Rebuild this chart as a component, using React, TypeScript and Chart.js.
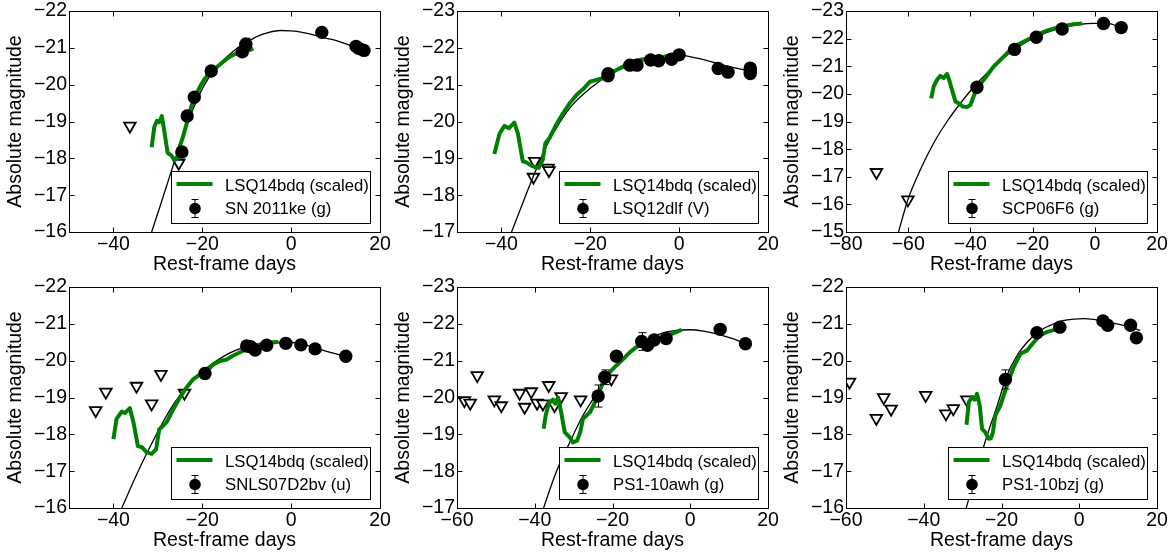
import React, { useEffect, useRef } from 'react';
import { Chart, registerables } from 'chart.js';

Chart.register(...registerables);

const FONT_FAMILY = '"Liberation Sans", Arial, Helvetica, sans-serif';

// ---------- shared text ----------
const xTitle = 'Rest-frame days';
const yTitle = 'Absolute magnitude';
const templateLabel = 'LSQ14bdq (scaled)';

// ---------- panel 1 : SN 2011ke (g) ----------
const p1Label = 'SN 2011ke (g)';
const p1XRange = [-50, 20];
const p1YRange = [-22, -16];
const p1XTicks = [-40, -20, 0, 20];
const p1YTicks = [-22, -21, -20, -19, -18, -17, -16];
const p1DetX = [-24.6, -23.4, -21.8, -18.0, -11.0, -10.2, 6.9, 14.6, 15.3, 16.4];
const p1DetY = [-18.17, -19.15, -19.66, -20.37, -20.89, -21.1, -21.42, -21.04, -20.98, -20.93];
const p1DetErr = [0.05, 0.05, 0.05, 0.05, 0.05, 0.16, 0.05, 0.05, 0.05, 0.05];
const p1LimX = [-36.3, -25.3];
const p1LimY = [-18.88, -17.87];
const p1FitX = [-32.0, -31.4, -29.5, -27.5, -25.5, -23.5, -21.5, -19.5, -17, -14.5, -12, -10, -7.5, -5, -2.5, 0, 2.5, 5, 7.5, 10, 12.5, 15, 16.5];
const p1FitY = [-15.78, -16, -16.7, -17.45, -18.2, -18.9, -19.5, -20.0, -20.45, -20.75, -21.0, -21.15, -21.32, -21.42, -21.47, -21.46, -21.42, -21.35, -21.27, -21.2, -21.1, -21.0, -20.93];
const p1TplX = [-31.4, -30.8, -30.2, -29.7, -29.1, -28.5, -27.8, -27.0, -26.2, -25.6, -25.0, -24.3, -23.5, -22.5, -21.5, -20.5, -19.5, -18.5, -17.5, -16.5, -15.5, -14.5, -13.5, -12.5, -11.5, -10.5, -9.5, -8.5];
const p1TplY = [-18.3, -18.85, -19.02, -18.98, -19.15, -18.7, -18.15, -18.08, -17.95, -18.0, -18.35, -18.6, -18.95, -19.4, -19.7, -19.95, -20.15, -20.3, -20.38, -20.5, -20.6, -20.7, -20.78, -20.84, -20.87, -20.9, -20.94, -20.98];

// ---------- panel 2 : LSQ12dlf (V) ----------
const p2Label = 'LSQ12dlf (V)';
const p2XRange = [-50, 20];
const p2YRange = [-23, -17];
const p2XTicks = [-40, -20, 0, 20];
const p2YTicks = [-23, -22, -21, -20, -19, -18, -17];
const p2DetX = [-16.0, -16.0, -11.1, -9.5, -6.4, -4.6, -1.7, 0.0, 8.8, 11.0, 16.0, 16.0, 16.0];
const p2DetY = [-21.3, -21.24, -21.53, -21.53, -21.67, -21.65, -21.69, -21.81, -21.44, -21.34, -21.45, -21.38, -21.3];
const p2DetErr = [0.05, 0.05, 0.05, 0.05, 0.05, 0.05, 0.05, 0.05, 0.05, 0.05, 0.05, 0.05, 0.05];
const p2LimX = [-32.5, -32.8, -29.5, -29.3];
const p2LimY = [-18.92, -18.49, -18.74, -18.67];
const p2FitX = [-38.2, -35, -32.5, -30, -27, -24, -20, -16, -12, -8, -4, 0, 4, 8, 12, 16];
const p2FitY = [-16.85, -17.85, -18.6, -19.3, -19.95, -20.45, -20.9, -21.25, -21.5, -21.65, -21.75, -21.8, -21.72, -21.6, -21.47, -21.37];
const p2TplX = [-41.6, -40.4, -39.3, -38.3, -37.1, -36.3, -35.2, -34.4, -32.9, -31.6, -30.7, -30.1, -29.2, -27.7, -26.1, -24.6, -23.1, -21.6, -20.1, -18.6, -17.1, -15.6, -14.1, -12.6, -11.1, -9.6, -8.1, -6.6, -5.1, -3.6, -2.0];
const p2TplY = [-19.12, -19.68, -19.88, -19.82, -19.97, -19.68, -18.92, -18.89, -18.78, -18.74, -18.96, -19.41, -19.55, -19.91, -20.23, -20.5, -20.72, -20.88, -21.08, -21.13, -21.18, -21.31, -21.4, -21.49, -21.6, -21.65, -21.69, -21.72, -21.74, -21.75, -21.8];

// ---------- panel 3 : SCP06F6 (g) ----------
const p3Label = 'SCP06F6 (g)';
const p3XRange = [-80, 20];
const p3YRange = [-23, -15];
const p3XTicks = [-80, -60, -40, -20, 0, 20];
const p3YTicks = [-23, -22, -21, -20, -19, -18, -17, -16, -15];
const p3DetX = [-37.9, -25.8, -18.8, -10.5, 2.8, 8.5];
const p3DetY = [-20.24, -21.61, -22.05, -22.35, -22.55, -22.4];
const p3DetErr = [0.05, 0.05, 0.05, 0.05, 0.05, 0.05];
const p3LimX = [-70.2, -60.1];
const p3LimY = [-17.16, -16.17];
const p3FitX = [-63.5, -60.1, -56.1, -51.8, -47.5, -43.2, -39, -34.7, -30.4, -26.1, -21.8, -17.5, -13.2, -8.9, -4.6, -0.4, 3.9, 8.5];
const p3FitY = [-14.85, -16.17, -17.25, -18.22, -19.0, -19.66, -20.24, -20.75, -21.19, -21.59, -21.89, -22.13, -22.31, -22.43, -22.52, -22.55, -22.55, -22.4];
const p3TplX = [-52.6, -51.8, -50.7, -49.7, -48.6, -47.5, -47.0, -45.9, -44.8, -43.8, -42.4, -41.1, -40.0, -39.0, -37.9, -35.7, -32.5, -29.3, -26.1, -23.9, -21.8, -19.6, -17.5, -15.4, -12.2, -8.9, -6.8, -4.1];
const p3TplY = [-19.84, -20.27, -20.51, -20.65, -20.57, -20.72, -20.57, -20.14, -19.72, -19.66, -19.54, -19.52, -19.6, -19.9, -20.2, -20.51, -20.99, -21.35, -21.71, -21.83, -21.95, -22.07, -22.19, -22.29, -22.4, -22.48, -22.52, -22.55];

// ---------- panel 4 : SNLS07D2bv (u) ----------
const p4Label = 'SNLS07D2bv (u)';
const p4XRange = [-50, 20];
const p4YRange = [-22, -16];
const p4XTicks = [-40, -20, 0, 20];
const p4YTicks = [-22, -21, -20, -19, -18, -17, -16];
const p4DetX = [-19.4, -10.0, -9.1, -8.1, -5.5, -1.2, 2.2, 5.4, 12.3];
const p4DetY = [-19.65, -20.4, -20.38, -20.29, -20.42, -20.47, -20.43, -20.32, -20.12];
const p4DetErr = [0.05, 0.05, 0.05, 0.05, 0.05, 0.05, 0.05, 0.05, 0.05];
const p4LimX = [-44.0, -41.7, -34.8, -31.4, -29.3, -24.0];
const p4LimY = [-18.65, -19.15, -19.31, -18.83, -19.63, -19.12];
const p4FitX = [-38.3, -35, -32, -29, -26, -23, -20, -17, -14, -11, -8, -5, -1, 2, 5.4, 9, 12.3];
const p4FitY = [-15.95, -16.85, -17.6, -18.3, -18.9, -19.35, -19.7, -19.98, -20.2, -20.35, -20.44, -20.48, -20.5, -20.46, -20.35, -20.22, -20.12];
const p4TplX = [-40.0, -39.3, -38.1, -37.4, -36.3, -35.5, -34.5, -33.6, -32.5, -31.4, -30.4, -29.7, -28.0, -26.5, -25.0, -23.5, -22.0, -20.5, -19.0, -17.5, -16.0, -14.5, -13.0, -11.5, -10.0, -8.5, -7.0, -5.5, -4.0, -2.9];
const p4TplY = [-17.87, -18.42, -18.62, -18.58, -18.71, -18.33, -17.68, -17.65, -17.51, -17.47, -17.59, -18.13, -18.33, -18.69, -19.01, -19.28, -19.5, -19.63, -19.72, -19.9, -19.99, -20.03, -20.14, -20.23, -20.32, -20.4, -20.44, -20.49, -20.5, -20.51];

// ---------- panel 5 : PS1-10awh (g) ----------
const p5Label = 'PS1-10awh (g)';
const p5XRange = [-60, 20];
const p5YRange = [-23, -17];
const p5XTicks = [-60, -40, -20, 0, 20];
const p5YTicks = [-23, -22, -21, -20, -19, -18, -17];
const p5DetX = [-23.7, -22.0, -19.0, -12.5, -11.0, -9.3, -6.2, 7.7, 14.2];
const p5DetY = [-20.04, -20.55, -21.12, -21.52, -21.42, -21.56, -21.6, -21.85, -21.46];
const p5DetErr = [0.3, 0.2, 0.05, 0.24, 0.05, 0.05, 0.05, 0.05, 0.05];
const p5LimX = [-58.1, -56.6, -54.8, -50.4, -48.6, -43.9, -42.6, -40.9, -39.4, -37.9, -36.4, -34.9, -33.2, -28.2, -20.3];
const p5LimY = [-19.92, -19.85, -20.6, -19.94, -19.78, -20.12, -19.74, -20.16, -19.85, -19.83, -20.33, -19.78, -20.03, -19.94, -20.51];
const p5FitX = [-38, -34.5, -31.0, -27.6, -24.1, -20.7, -17.2, -13.8, -10.4, -6.9, -3.5, 0, 3.4, 7.7, 11.1, 14.2];
const p5FitY = [-16.92, -17.97, -18.78, -19.51, -20.1, -20.64, -21.05, -21.37, -21.59, -21.76, -21.82, -21.84, -21.8, -21.7, -21.59, -21.46];
const p5TplX = [-37.7, -37.2, -36.3, -35.3, -34.7, -34.0, -33.2, -32.3, -31.0, -30.2, -29.1, -28.3, -27.6, -25.8, -24.1, -22.4, -20.7, -19.0, -17.2, -15.5, -13.8, -12.1, -10.4, -8.6, -6.9, -5.2, -3.5, -2.2];
const p5TplY = [-19.15, -19.51, -19.87, -19.94, -19.83, -20.0, -19.6, -19.06, -18.92, -18.78, -18.83, -19.06, -19.42, -19.6, -19.96, -20.42, -20.69, -20.87, -21.05, -21.23, -21.37, -21.46, -21.53, -21.59, -21.64, -21.71, -21.78, -21.84];

// ---------- panel 6 : PS1-10bzj (g) ----------
const p6Label = 'PS1-10bzj (g)';
const p6XRange = [-60, 20];
const p6YRange = [-22, -16];
const p6XTicks = [-60, -40, -20, 0, 20];
const p6YTicks = [-22, -21, -20, -19, -18, -17, -16];
const p6DetX = [-19.0, -10.9, -5.0, 6.1, 7.3, 13.2, 14.7];
const p6DetY = [-19.49, -20.76, -20.91, -21.08, -20.96, -20.96, -20.62];
const p6DetErr = [0.26, 0.05, 0.05, 0.05, 0.05, 0.05, 0.05];
const p6LimX = [-59.1, -52.2, -50.3, -48.4, -39.5, -34.3, -32.4, -28.9];
const p6LimY = [-19.42, -18.44, -19.0, -18.69, -19.06, -18.56, -18.7, -18.94];
const p6FitX = [-29.2, -26.3, -23.7, -21.1, -18.6, -16.0, -13.4, -10.9, -8.3, -4.9, -1.4, 1.1, 3.7, 6.3, 9.7, 13.2, 15.7];
const p6FitY = [-15.95, -17.06, -17.97, -18.78, -19.6, -20.14, -20.5, -20.76, -20.92, -21.07, -21.13, -21.14, -21.12, -21.07, -21.0, -20.91, -20.82];
const p6TplX = [-29.0, -28.4, -27.6, -26.9, -26.3, -25.6, -25.0, -24.2, -23.3, -22.7, -22.2, -21.6, -20.3, -18.6, -16.9, -15.1, -13.4, -11.7, -10.0, -8.3, -6.6, -4.9, -3.4];
const p6TplY = [-18.26, -18.87, -19.01, -18.94, -19.1, -18.78, -18.15, -18.06, -17.88, -17.9, -18.06, -18.51, -18.78, -19.33, -19.82, -20.19, -20.28, -20.5, -20.69, -20.78, -20.83, -20.89, -20.94];

// ---------- panel table built from the arrays ----------
const PANELS = [
  { label: p1Label, xr: p1XRange, yr: p1YRange, xt: p1XTicks, yt: p1YTicks, dx: p1DetX, dy: p1DetY, de: p1DetErr, lx: p1LimX, ly: p1LimY, fx: p1FitX, fy: p1FitY, tx: p1TplX, ty: p1TplY },
  { label: p2Label, xr: p2XRange, yr: p2YRange, xt: p2XTicks, yt: p2YTicks, dx: p2DetX, dy: p2DetY, de: p2DetErr, lx: p2LimX, ly: p2LimY, fx: p2FitX, fy: p2FitY, tx: p2TplX, ty: p2TplY },
  { label: p3Label, xr: p3XRange, yr: p3YRange, xt: p3XTicks, yt: p3YTicks, dx: p3DetX, dy: p3DetY, de: p3DetErr, lx: p3LimX, ly: p3LimY, fx: p3FitX, fy: p3FitY, tx: p3TplX, ty: p3TplY },
  { label: p4Label, xr: p4XRange, yr: p4YRange, xt: p4XTicks, yt: p4YTicks, dx: p4DetX, dy: p4DetY, de: p4DetErr, lx: p4LimX, ly: p4LimY, fx: p4FitX, fy: p4FitY, tx: p4TplX, ty: p4TplY },
  { label: p5Label, xr: p5XRange, yr: p5YRange, xt: p5XTicks, yt: p5YTicks, dx: p5DetX, dy: p5DetY, de: p5DetErr, lx: p5LimX, ly: p5LimY, fx: p5FitX, fy: p5FitY, tx: p5TplX, ty: p5TplY },
  { label: p6Label, xr: p6XRange, yr: p6YRange, xt: p6XTicks, yt: p6YTicks, dx: p6DetX, dy: p6DetY, de: p6DetErr, lx: p6LimX, ly: p6LimY, fx: p6FitX, fy: p6FitY, tx: p6TplX, ty: p6TplY },
];

// plot-area positions on the page (layout, not data)
const PLOT_POS = [
  { left: 69, top: 11 }, { left: 457, top: 11 }, { left: 846, top: 11 },
  { left: 69, top: 287 }, { left: 457, top: 287 }, { left: 846, top: 287 },
];
const PLOT_W = 311;
const PLOT_H = 221;
const Y_AXIS_W = 69;
const X_AXIS_H = 46;
const PAD_TOP = 11;
const PAD_RIGHT = 16;
const CANVAS_W = Y_AXIS_W + PLOT_W + PAD_RIGHT;
const CANVAS_H = PAD_TOP + PLOT_H + X_AXIS_H;

const GREEN = '#008000';
const fmt = (v: number) => (v < 0 ? '\u2212' + Math.abs(v) : String(v));
const pts = (xs: number[], ys: number[]) => xs.map((x, i) => ({ x, y: ys[i] }));

const errBarPlugin = {
  id: 'errbars',
  afterDatasetsDraw(chart: any, _args: any, opts: any) {
    const { ctx, scales } = chart;
    const xs: number[] = opts.x || [];
    const ys: number[] = opts.y || [];
    const es: number[] = opts.err || [];
    ctx.save();
    const a = chart.chartArea;
    ctx.beginPath();
    ctx.rect(a.left, a.top, a.right - a.left, a.bottom - a.top);
    ctx.clip();
    ctx.strokeStyle = '#000';
    ctx.lineWidth = 1;
    xs.forEach((xv, i) => {
      const px = Math.round(scales.x.getPixelForValue(xv)) + 0.5;
      const y1 = scales.y.getPixelForValue(ys[i] - es[i]);
      const y2 = scales.y.getPixelForValue(ys[i] + es[i]);
      ctx.beginPath();
      ctx.moveTo(px, y1); ctx.lineTo(px, y2);
      ctx.moveTo(px - 4, y1); ctx.lineTo(px + 4, y1);
      ctx.moveTo(px - 4, y2); ctx.lineTo(px + 4, y2);
      ctx.stroke();
    });
    ctx.restore();
  },
};

const framePlugin = {
  id: 'frame',
  afterDatasetsDraw(chart: any, _args: any, opts: any) {
    const { ctx, chartArea: a, scales } = chart;
    const L = Math.round(a.left) + 0.5;
    const R = Math.round(a.right) + 0.5;
    const T = Math.round(a.top) + 0.5;
    const B = Math.round(a.bottom) + 0.5;
    ctx.save();
    ctx.strokeStyle = '#000';
    ctx.lineWidth = 1;
    ctx.strokeRect(L, T, R - L, B - T);
    const tl = 5;
    ctx.beginPath();
    (opts.xt || []).forEach((v: number) => {
      const px = Math.round(scales.x.getPixelForValue(v)) + 0.5;
      ctx.moveTo(px, B); ctx.lineTo(px, B - tl);
      ctx.moveTo(px, T); ctx.lineTo(px, T + tl);
    });
    (opts.yt || []).forEach((v: number) => {
      const py = Math.round(scales.y.getPixelForValue(v)) + 0.5;
      ctx.moveTo(L, py); ctx.lineTo(L + tl, py);
      ctx.moveTo(R, py); ctx.lineTo(R - tl, py);
    });
    ctx.stroke();
    ctx.restore();
  },
};

const legendPlugin = {
  id: 'boxlegend',
  afterDraw(chart: any, _args: any, opts: any) {
    const { ctx, chartArea: a } = chart;
    const bw = 199;
    const bh = 52;
    const bx = Math.round(a.right) - 10 - bw + 0.5;
    const by = Math.round(a.bottom) - 9 - bh + 0.5;
    ctx.save();
    ctx.fillStyle = '#fff';
    ctx.fillRect(bx, by, bw, bh);
    ctx.strokeStyle = '#000';
    ctx.lineWidth = 1;
    ctx.strokeRect(bx, by, bw, bh);
    // template line sample
    ctx.strokeStyle = GREEN;
    ctx.lineWidth = 4;
    ctx.beginPath();
    ctx.moveTo(bx + 5, by + 12.5);
    ctx.lineTo(bx + 41, by + 12.5);
    ctx.stroke();
    // detection sample: marker with error bar
    const mx = bx + 23.5;
    const my = by + 37;
    ctx.strokeStyle = '#000';
    ctx.lineWidth = 1;
    ctx.beginPath();
    ctx.moveTo(mx, my - 9); ctx.lineTo(mx, my + 9);
    ctx.moveTo(mx - 3.5, my - 9); ctx.lineTo(mx + 3.5, my - 9);
    ctx.moveTo(mx - 3.5, my + 9); ctx.lineTo(mx + 3.5, my + 9);
    ctx.stroke();
    ctx.fillStyle = '#000';
    ctx.beginPath();
    ctx.arc(mx, my, 5.8, 0, Math.PI * 2);
    ctx.fill();
    // texts
    ctx.font = `16.7px ${FONT_FAMILY}`;
    ctx.textBaseline = 'alphabetic';
    ctx.textAlign = 'left';
    ctx.fillText(templateLabel, bx + 53.5, by + 19.5);
    ctx.fillText(opts.label, bx + 53.5, by + 42.5);
    ctx.restore();
  },
};

function makeConfig(p: any): any {
  const tickFont = { family: FONT_FAMILY, size: 19.5 };
  return {
    type: 'scatter',
    data: {
      datasets: [
        {
          type: 'scatter',
          label: p.label,
          data: pts(p.dx, p.dy),
          pointStyle: 'circle',
          pointRadius: 6.7,
          pointBackgroundColor: '#000',
          pointBorderColor: '#000',
          pointBorderWidth: 0,
          order: 1,
          clip: 0,
        },
        {
          type: 'line',
          label: templateLabel,
          data: pts(p.tx, p.ty),
          borderColor: GREEN,
          borderWidth: 4,
          borderJoinStyle: 'round',
          borderCapStyle: 'butt',
          pointRadius: 0,
          tension: 0,
          fill: false,
          order: 2,
          clip: 0,
        },
        {
          type: 'line',
          label: 'fit',
          data: pts(p.fx, p.fy),
          borderColor: '#000',
          borderWidth: 1.3,
          pointRadius: 0,
          cubicInterpolationMode: 'monotone',
          fill: false,
          order: 3,
          clip: 0,
        },
        {
          type: 'scatter',
          label: 'limits',
          data: pts(p.lx, p.ly),
          pointStyle: 'triangle',
          pointRotation: 180,
          pointRadius: 6.7,
          pointBackgroundColor: '#fff',
          pointBorderColor: '#000',
          pointBorderWidth: 1.8,
          order: 4,
          clip: 0,
        },
      ],
    },
    options: {
      animation: false,
      responsive: false,
      devicePixelRatio: 1,
      events: [],
      layout: { autoPadding: false, padding: { top: PAD_TOP, right: PAD_RIGHT, left: 0, bottom: 0 } },
      plugins: {
        legend: { display: false },
        tooltip: { enabled: false },
        errbars: { x: p.dx, y: p.dy, err: p.de },
        frame: { xt: p.xt, yt: p.yt },
        boxlegend: { label: p.label },
      },
      scales: {
        x: {
          type: 'linear',
          min: p.xr[0],
          max: p.xr[1],
          grid: { display: false, drawTicks: false },
          border: { display: false },
          ticks: { font: tickFont, color: '#000', padding: 1, autoSkip: false, maxRotation: 0, callback: (v: number) => fmt(v) },
          afterBuildTicks: (s: any) => { s.ticks = p.xt.map((v: number) => ({ value: v })); },
          afterFit: (s: any) => { s.height = X_AXIS_H; s.paddingLeft = 0; s.paddingRight = 0; s.paddingTop = 0; s.paddingBottom = 0; },
          title: { display: true, text: xTitle, color: '#000', font: { family: FONT_FAMILY, size: 19.5 }, padding: { top: 0, bottom: 2 } },
        },
        y: {
          type: 'linear',
          reverse: true,
          min: p.yr[0],
          max: p.yr[1],
          grid: { display: false, drawTicks: false },
          border: { display: false },
          ticks: { font: tickFont, color: '#000', padding: 2, autoSkip: false, callback: (v: number) => fmt(v) },
          afterBuildTicks: (s: any) => { s.ticks = p.yt.map((v: number) => ({ value: v })); },
          afterFit: (s: any) => { s.width = Y_AXIS_W; s.paddingLeft = 0; s.paddingRight = 0; s.paddingTop = 0; s.paddingBottom = 0; },
          title: { display: true, text: yTitle, color: '#000', font: { family: FONT_FAMILY, size: 19.5 }, padding: { top: 4, bottom: 0 } },
        },
      },
    },
    plugins: [errBarPlugin, framePlugin, legendPlugin],
  };
}

function Panel({ p, pos }: { p: any; pos: { left: number; top: number } }) {
  const ref = useRef<HTMLCanvasElement>(null);
  useEffect(() => {
    const chart = new Chart(ref.current as HTMLCanvasElement, makeConfig(p));
    return () => chart.destroy();
  }, [p]);
  return (
    <canvas
      ref={ref}
      width={CANVAS_W}
      height={CANVAS_H}
      style={{ position: 'absolute', left: pos.left - Y_AXIS_W, top: pos.top - PAD_TOP, width: CANVAS_W, height: CANVAS_H }}
    />
  );
}

export default function App() {
  return (
    <div style={{ position: 'absolute', left: 0, top: 0, width: 1175, height: 560, background: '#fff', overflow: 'hidden' }}>
      {PANELS.map((p, i) => (
        <Panel key={i} p={p} pos={PLOT_POS[i]} />
      ))}
    </div>
  );
}
